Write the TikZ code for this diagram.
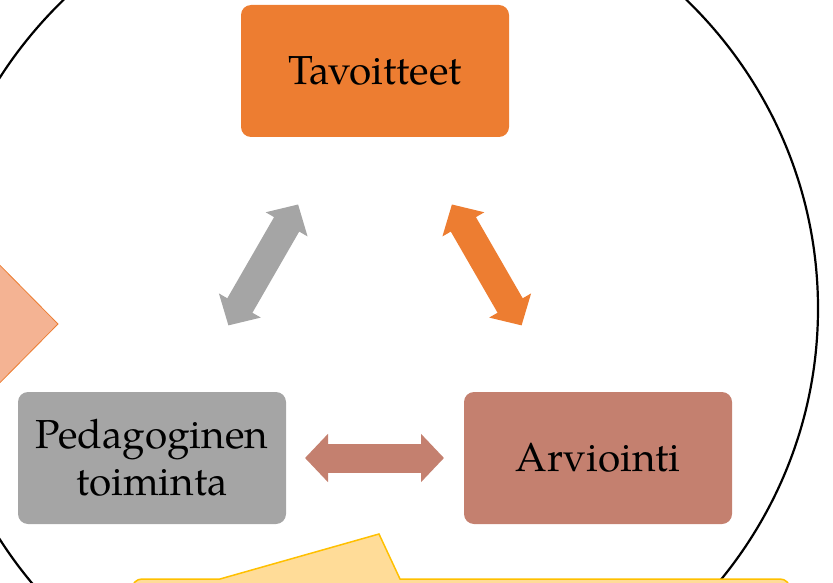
\documentclass[tikz,border=0pt]{standalone}
\usepackage{fontspec}
\setmainfont{TeX Gyre Pagella}
\usetikzlibrary{arrows.meta}
\definecolor{cOrange}{HTML}{ED7D31}
\definecolor{cGray}{HTML}{A5A5A5}
\definecolor{cBrown}{HTML}{C4806F}
\definecolor{cLightOrange}{HTML}{F4B393}
\definecolor{cYellow}{HTML}{FFDC98}
\definecolor{cGold}{HTML}{FFC000}
\begin{document}
\begin{tikzpicture}[x=1pt,y=-1pt,
  box/.style={rounded corners=10pt, minimum width=268pt, minimum height=132pt,
    inner sep=0pt, align=center, font=\fontsize{40.5}{47}\selectfont},
  dbl/.style={line width=29pt,
    {Triangle[length=23pt,width=47pt]}-{Triangle[length=23pt,width=47pt]},
    shorten <=153pt, shorten >=154pt}]
\useasboundingbox (0,0) rectangle (833,583);
% big ellipse
\draw[line width=2.2pt] (375,308.5) ellipse [x radius=443, y radius=434];
% left arrow-shaped piece
\draw[fill=cLightOrange, draw=cOrange, line width=0.8pt]
  (-30,235) -- (58,324) -- (-30,413) -- cycle;
% boxes
\node[box, fill=cOrange] (tav) at (375,71) {Tavoitteet};
\node[box, fill=cGray] (ped) at (152,458) {Pedagoginen\\toiminta};
\node[box, fill=cBrown] (arv) at (598,458) {Arviointi};
% double arrows
\draw[dbl, cGray] (ped.center) -- (tav.center);
\draw[dbl, cOrange] (arv.center) -- (tav.center);
\draw[dbl, cBrown] (ped.center) -- (arv.center);
% yellow callout
\draw[fill=cYellow, draw=cGold, line width=1.5pt]
  (132,660) [rounded corners=10pt] -- (132,579) [sharp corners] -- (220,579)
  -- (379,534) -- (400,579) [rounded corners=10pt] -- (790,579) -- (790,660) -- cycle;
\end{tikzpicture}
\end{document}
